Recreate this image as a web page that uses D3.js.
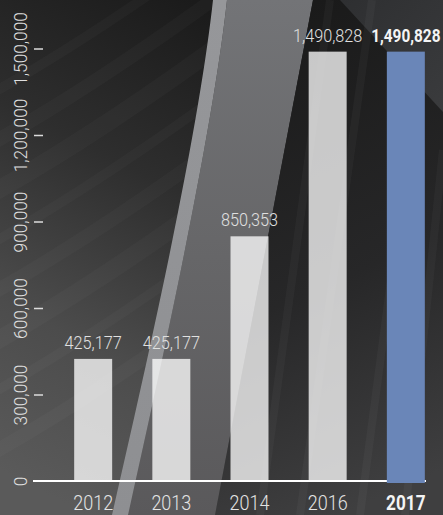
<!DOCTYPE html>
<html>
<head>
<meta charset="utf-8">
<script src="https://cdn.jsdelivr.net/npm/d3@7"></script>
<style>
  html, body { margin: 0; padding: 0; background: #2a2a2a; }
  svg { display: block; }
  text { font-family: Roboto, "Liberation Sans", sans-serif; }
</style>
</head>
<body>
<svg id="chart" width="443" height="515"></svg>
<script>
// Visitors per year
const years = ["2012", "2013", "2014", "2016", "2017"];
const visitors = [425177, 425177, 850353, 1490828, 1490828];
const highlightYear = "2017";
const yTicks = [0, 300000, 600000, 900000, 1200000, 1500000];

const W = 443, H = 515;
const svg = d3.select("#chart");
const defs = svg.append("defs");

function linGrad(id, x1, y1, x2, y2, stops) {
  const g = defs.append("linearGradient").attr("id", id)
    .attr("gradientUnits", "userSpaceOnUse")
    .attr("x1", x1).attr("y1", y1).attr("x2", x2).attr("y2", y2);
  stops.forEach(([o, c]) => g.append("stop").attr("offset", o).attr("stop-color", c));
}

linGrad("bgLeft", 230, 20, 0, 470, [[0, "#1b1b1b"], [0.35, "#2e2e2e"], [0.7, "#4c4c4c"], [1, "#5a5a5a"]]);
linGrad("bgMid", 0, 0, 0, H, [[0, "#737477"], [0.5, "#666668"], [1, "#5a595b"]]);
linGrad("bgRight", 250, 30, 443, 470, [[0, "#1a1a1a"], [0.55, "#272728"], [1, "#3f3f40"]]);
linGrad("bgCorner", 340, 0, 443, 110, [[0, "#2e2f31"], [1, "#3a3b3d"]]);
linGrad("stripe", 0, 0, 0, H, [[0, "#96979a"], [1, "#8e8f92"]]);

// ---- backdrop ----
const bg = svg.append("g");
bg.append("rect").attr("width", W).attr("height", H).attr("fill", "url(#bgLeft)");

// soft arcs sweeping across the left panel
const arcs = bg.append("g").attr("fill", "none").attr("stroke", "#ffffff");
[60, 110, 160, 210, 260, 310, 360, 420].forEach((y0, i) => {
  arcs.append("path")
    .attr("d", `M-20,${y0 + 40} Q90,${y0 - 20} 240,${y0 - 130}`)
    .attr("stroke-width", 10 + (i % 3) * 4)
    .attr("stroke-opacity", 0.022);
});

// middle panel between the light stripe and the dark edge
bg.append("path")
  .attr("d", "M227,0 C217,90 192,230 128,515 L215,515 L313,0 Z")
  .attr("fill", "url(#bgMid)");

// dark right panel
bg.append("path")
  .attr("d", "M313,0 L443,0 L443,515 L215,515 Z")
  .attr("fill", "url(#bgRight)");

// lighter wedge in the upper right corner
bg.append("path")
  .attr("d", "M340,0 L443,0 L443,112 Z")
  .attr("fill", "url(#bgCorner)");

// faint streaks on the right
const streaks = bg.append("g").attr("fill", "none").attr("stroke", "#ffffff").attr("stroke-opacity", 0.03);
[[330, 0, 260, 515], [372, 0, 300, 515], [420, 60, 360, 515], [443, 150, 405, 515]].forEach(([a, b, c, d]) => {
  streaks.append("line").attr("x1", a).attr("y1", b).attr("x2", c).attr("y2", d).attr("stroke-width", 8);
});

// light diagonal stripe
bg.append("path")
  .attr("d", "M213,0 C203,90 178,230 112,515 L128,515 C192,230 217,90 227,0 Z")
  .attr("fill", "url(#stripe)");

// ---- scales ----
const x = d3.scaleBand().domain(years).range([34, 465]).padding(0.514);
const y = d3.scaleLinear().domain([0, 1500000]).range([481.5, 49]);

// ---- y axis ----
const yAxis = svg.append("g");
yAxis.selectAll("line.tick").data(yTicks.slice(1)).join("line")
  .attr("class", "tick")
  .attr("x1", 34).attr("x2", 43)
  .attr("y1", d => y(d)).attr("y2", d => y(d))
  .attr("stroke", "#dcdcdc").attr("stroke-width", 1.5);
yAxis.selectAll("text").data(yTicks).join("text")
  .attr("transform", d => `translate(27,${y(d)}) rotate(-90) scale(0.96,1)`)
  .attr("text-anchor", "middle")
  .attr("font-size", 18)
  .attr("font-weight", 300)
  .attr("fill", "#e0e0e0")
  .text(d => d3.format(",")(d));

// baseline
svg.append("line")
  .attr("x1", 33).attr("x2", 426)
  .attr("y1", 481).attr("y2", 481)
  .attr("stroke", "#ffffff").attr("stroke-width", 2);

// ---- bars ----
const rows = years.map((yr, i) => ({ year: yr, value: visitors[i], hi: yr === highlightYear }));

svg.append("g").selectAll("rect").data(rows).join("rect")
  .attr("x", d => x(d.year))
  .attr("width", x.bandwidth())
  .attr("y", d => y(d.value))
  .attr("height", d => y(0) - y(d.value) + (d.hi ? 1.5 : 0))
  .attr("fill", d => d.hi ? "#6a86b8" : "#ffffff")
  .attr("fill-opacity", d => d.hi ? 1 : 0.76);

// value labels
svg.append("g").selectAll("text").data(rows).join("text")
  .attr("transform", d => `translate(${x(d.year) + x.bandwidth() / 2},${y(d.value) - 10}) scale(${d.hi ? 0.88 : 0.93},1)`)
  .attr("text-anchor", "middle")
  .attr("font-size", 17.5)
  .attr("font-weight", d => d.hi ? 700 : 300)
  .attr("fill", d => d.hi ? "#f4f4f4" : "#e0e0e0")
  .text(d => d3.format(",")(d.value));

// category labels
svg.append("g").selectAll("text").data(rows).join("text")
  .attr("transform", d => `translate(${x(d.year) + x.bandwidth() / 2},510) scale(${d.hi ? 0.86 : 0.9},1)`)
  .attr("text-anchor", "middle")
  .attr("font-size", 20)
  .attr("font-weight", d => d.hi ? 700 : 300)
  .attr("fill", d => d.hi ? "#f4f4f4" : "#e4e4e4")
  .text(d => d.year);
</script>
</body>
</html>
